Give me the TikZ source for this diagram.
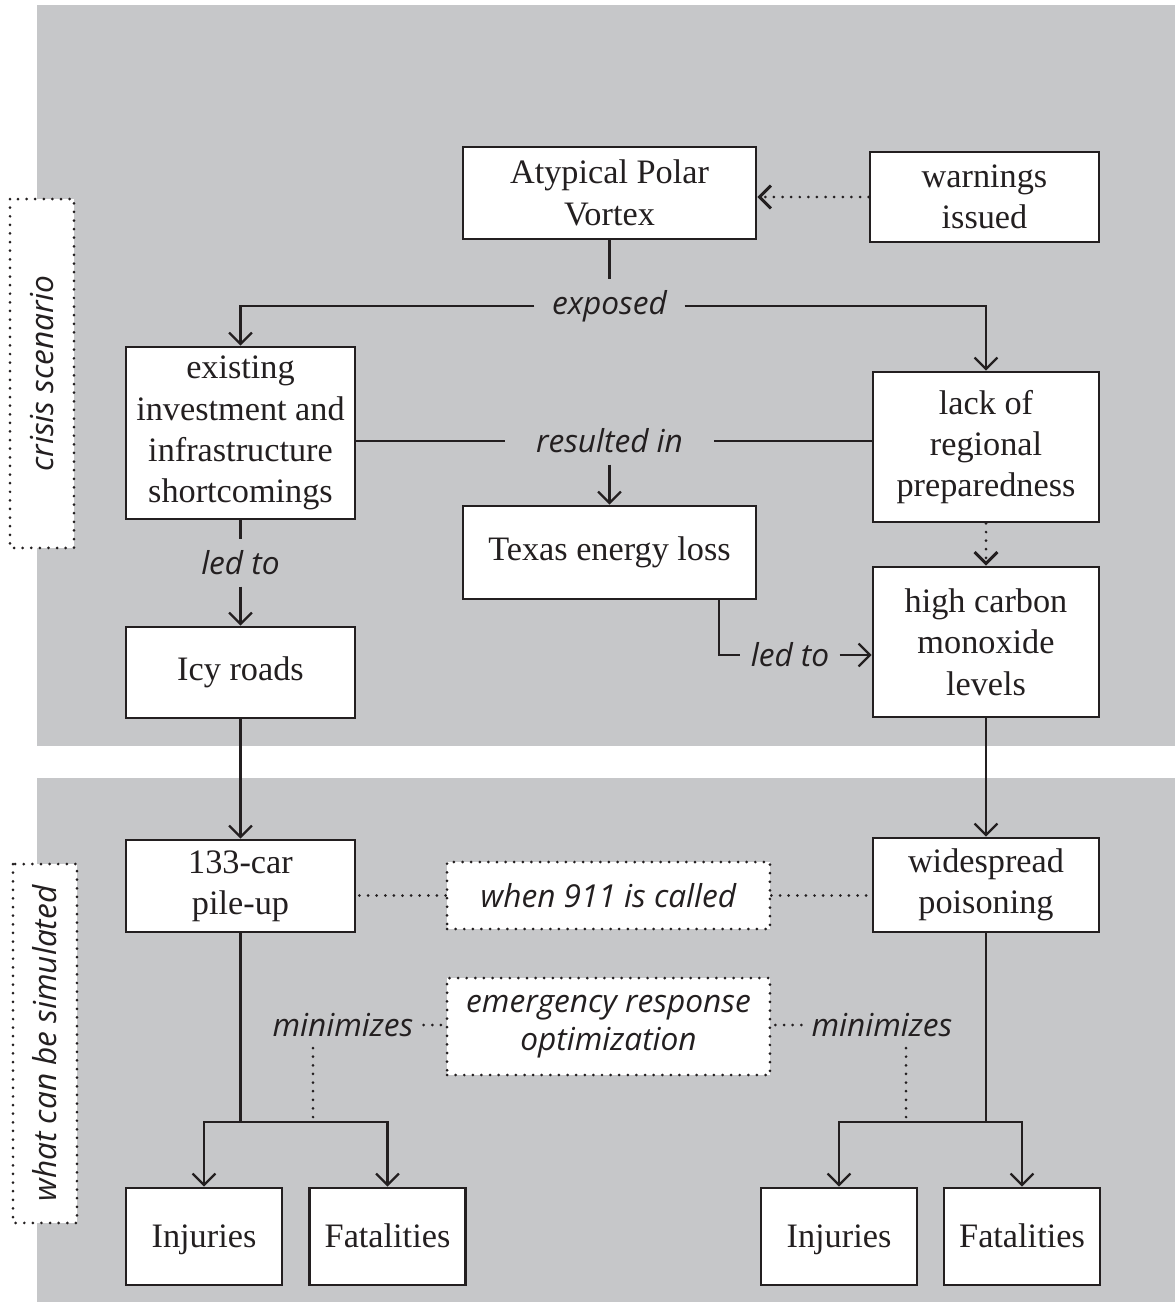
\documentclass[tikz,border=0pt]{standalone}
\usepackage{fontspec}
\setmainfont{Liberation Serif}
\newfontfamily\labelsans{Open Sans}
\usepackage{xcolor}
\definecolor{panel}{RGB}{198,199,201}
\definecolor{ink}{RGB}{35,31,32}
\usetikzlibrary{arrows.meta}
\usetikzlibrary{calc}
\tikzset{
	box/.style={draw, fill=white, line width=1.6pt, align=center, inner sep=0pt, font=\fontsize{19.5}{23.5}\selectfont},
	dotline/.style={line width=1.7pt, dash pattern=on 0pt off 4.9pt, line cap=round},
	dotbox/.style={draw, fill=white, dotline, align=center, inner sep=0pt, font=\labelsans\itshape\fontsize{18}{21.5}\selectfont},
	linklabel/.style={inner xsep=0.2cm, inner ysep=0.22cm, font=\labelsans\itshape\fontsize{18}{21.5}\selectfont},
	link/.style={line width=1.3pt}
}

\begin{document}
\begin{tikzpicture}[x=0.02cm, y=-0.02cm, color=ink, >={Straight Barb[length=6.5pt,width=13pt]}]
		\useasboundingbox (0,0) rectangle (1175,1302);
		
		%gray panels
		\fill[panel] (37,5) rectangle (1175,746);
		\fill[panel] (37,778) rectangle (1175,1302);
		
		%side labels
		\node[dotbox, rotate=90, minimum width=6.98cm, minimum height=1.28cm] (crisis) at (42,373.5) {crisis scenario};
		\node[dotbox, rotate=90, minimum width=7.18cm, minimum height=1.28cm] (simulated) at (45,1043.5) {what can be simulated};
		
		%crisis scenario boxes
		\node[box, minimum width=5.86cm, minimum height=1.84cm] (vortex) at (609.5,193) {Atypical Polar\\Vortex};
		\node[box, minimum width=4.58cm, minimum height=1.80cm] (warnings) at (984.5,197) {warnings\\issued};
		\node[box, minimum width=4.58cm, minimum height=3.44cm] (existing) at (240.5,433) {existing\\investment and\\infrastructure\\shortcomings};
		\node[box, minimum width=4.52cm, minimum height=3.00cm] (lack) at (986,447) {lack of\\regional\\preparedness};
		\node[box, minimum width=5.86cm, minimum height=1.86cm] (texas) at (609.5,552.5) {Texas energy loss};
		\node[box, minimum width=4.52cm, minimum height=3.00cm] (carbon) at (986,642) {high carbon\\monoxide\\levels};
		\node[box, minimum width=4.58cm, minimum height=1.82cm] (icy) at (240.5,672.5) {Icy roads};
		
		%simulated boxes
		\node[box, minimum width=4.58cm, minimum height=1.84cm] (pileup) at (240.5,886) {133-car\\pile-up};
		\node[box, minimum width=4.52cm, minimum height=1.88cm] (poisoning) at (986,885) {widespread\\poisoning};
		\node[dotbox, minimum width=6.46cm, minimum height=1.34cm] (called) at (608.5,895.5) {when 911 is called};
		\node[dotbox, minimum width=6.46cm, minimum height=1.94cm] (response) at (608.5,1026.5) {emergency response\\optimization};
		\foreach \n/\xi/\xf in {1/204/387.5, 2/839/1022}
		{
		\node[box, minimum width=3.12cm, minimum height=1.94cm, text height=0.44cm, text depth=0cm] (injuries\n) at (\xi,1236.5) {Injuries};
		\node[box, minimum width=3.12cm, minimum height=1.94cm, text height=0.44cm, text depth=0cm] (fatalities\n) at (\xf,1236.5) {Fatalities};
		}
		
		%link labels
		\node[linklabel, inner xsep=0.35cm] (exposed) at (609.5,306) {exposed};
		\node[linklabel, inner xsep=0.62cm] (resulted) at (609.5,441) {resulted in};
		\node[linklabel] (ledleft) at (240.5,563) {led to};
		\node[linklabel] (ledright) at (790,655) {led to};
		\node[linklabel] (minleft) at (343,1025) {minimizes};
		\node[linklabel] (minright) at (882,1025) {minimizes};
		\coordinate (turn) at (719,655);
		\coordinate (dropleft) at (313,1122);
		\coordinate (dropright) at (906,1122);
		
		%connectors, crisis scenario
		\draw[dotline, ->] (warnings.west) -- (warnings.west -| vortex.east);
		\draw[link] (vortex) -- (exposed);
		\draw[link, ->] (exposed) -| (existing);
		\draw[link, ->] (exposed) -| (lack);
		\draw[link] (resulted) -- (resulted -| existing.east);
		\draw[link] (resulted) -- (resulted -| lack.west);
		\draw[link, ->] (resulted) -- (texas);
		\draw[link] (existing) -- (ledleft);
		\draw[link, ->] (ledleft) -- (icy);
		\draw[link] (texas.south -| turn) -- (turn) -- (ledright);
		\draw[link, ->] (ledright) -- (ledright -| carbon.west);
		\draw[dotline, ->] (lack) -- (carbon);
		\draw[link, ->] (icy) -- (pileup);
		\draw[link, ->] (carbon) -- (poisoning);
		
		%connectors, simulated
		\draw[dotline] (called) -- (called -| pileup.east);
		\draw[dotline] (called) -- (called -| poisoning.west);
		\draw[dotline] (minleft) -- (minleft -| response.west);
		\draw[dotline] (minright) -- (minright -| response.east);
		\draw[dotline] (dropleft |- minleft.south) -- (dropleft);
		\draw[dotline] (dropright |- minright.south) -- (dropright);
		\draw[link] (pileup) -- (pileup |- dropleft);
		\draw[link, ->] (pileup |- dropleft) -| (injuries1);
		\draw[link, ->] (pileup |- dropleft) -| (fatalities1);
		\draw[link] (poisoning) -- (poisoning |- dropright);
		\draw[link, ->] (poisoning |- dropright) -| (injuries2);
		\draw[link, ->] (poisoning |- dropright) -| (fatalities2);
\end{tikzpicture}
\end{document}
